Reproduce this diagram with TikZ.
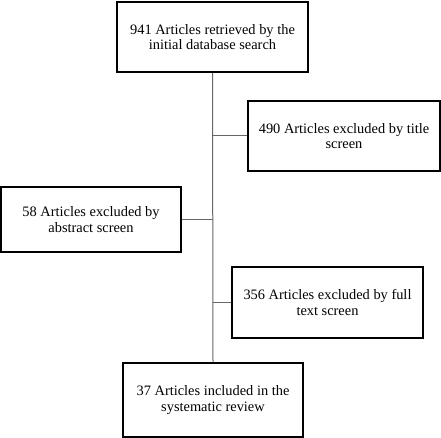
\documentclass[tikz,border=0pt]{standalone}
\usepackage{fontspec}
\setmainfont{Liberation Serif}
\begin{document}
\begin{tikzpicture}[
		x=1pt, y=1pt,
		stage/.style = {
			rectangle,
			draw,
			line width = 1.6pt,
			align = center,
			inner sep = 0pt,
			font = \fontsize{14.4}{15.5}\selectfont
		},
		link/.style = {
			draw = black!60,
			line width = 1pt
		}
	]
	\useasboundingbox (0,0) rectangle (441,-438);
	\node[stage, minimum width=191, minimum height=70] (search)   at (212.5,-37)  {941 Articles retrieved by the\\initial database search};
	\node[stage, minimum width=192, minimum height=70] (title)    at (344,-136)   {490 Articles excluded by title\\screen};
	\node[stage, minimum width=180, minimum height=65] (abstract) at (91,-219.5)  {58 Articles excluded by\\abstract screen};
	\node[stage, minimum width=191, minimum height=71] (fulltext) at (327.5,-302.5) {356 Articles excluded by full\\text screen};
	\node[stage, minimum width=180, minimum height=74] (included) at (213,-400)   {37 Articles included in the\\systematic review};
	% trunk and side branches
	\coordinate (titleJ)    at (title.west -| search.south);
	\coordinate (abstractJ) at (abstract.east -| search.south);
	\coordinate (fulltextJ) at (fulltext.west -| search.south);
	\draw[link] (search.south) -- (included.north);
	\draw[link] (titleJ) -- (title.west);
	\draw[link] (abstractJ) -- (abstract.east);
	\draw[link] (fulltextJ) -- (fulltext.west);
\end{tikzpicture}
\end{document}
